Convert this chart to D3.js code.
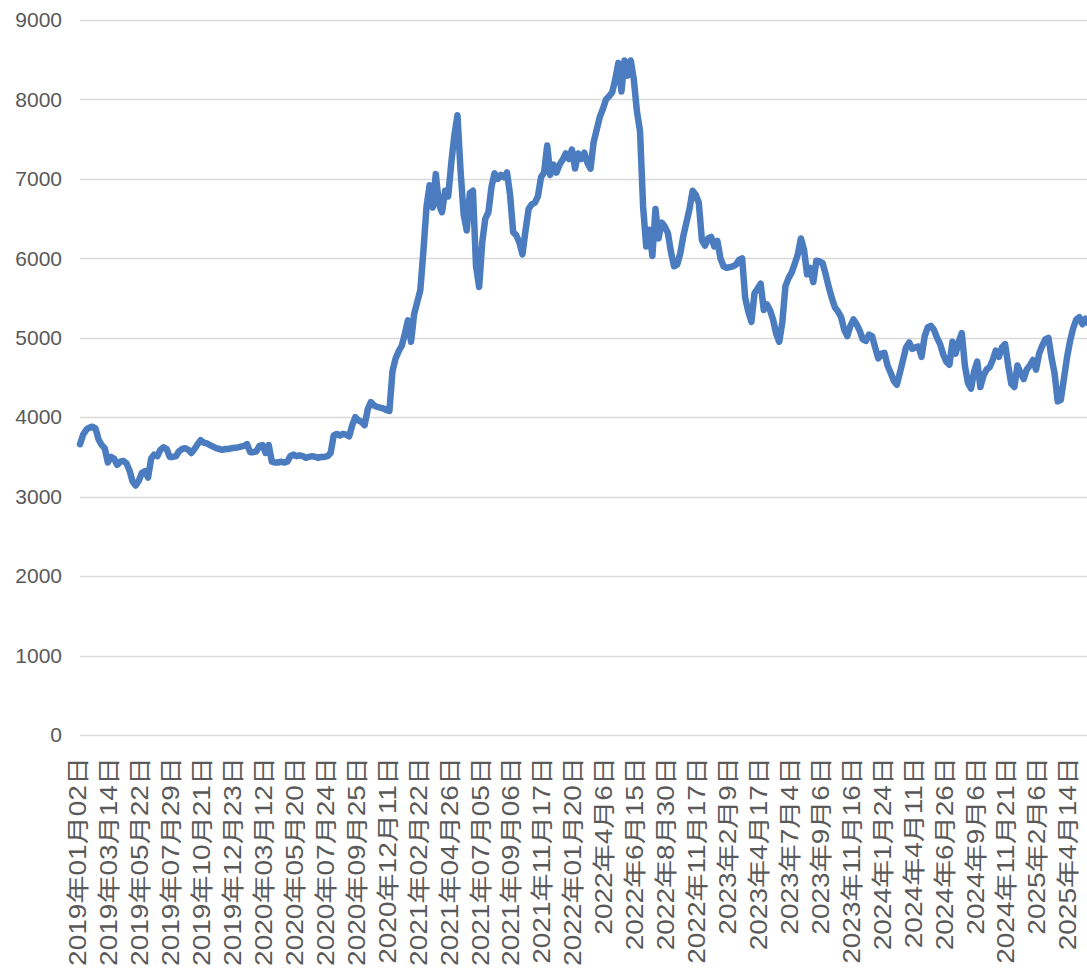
<!DOCTYPE html>
<html>
<head>
<meta charset="utf-8">
<script src="https://cdn.jsdelivr.net/npm/d3@7"></script>
<style>
  html, body { margin: 0; padding: 0; background: #fff; }
  svg { display: block; }
</style>
</head>
<body>
<div id="chart"></div>
<script>
// category labels shown on the x axis (one every 10 data points)
var dateLabels = [
  "2019年01月02日", "2019年03月14日", "2019年05月22日", "2019年07月29日",
  "2019年10月21日", "2019年12月23日", "2020年03月12日", "2020年05月20日",
  "2020年07月24日", "2020年09月25日", "2020年12月11日", "2021年02月22日",
  "2021年04月26日", "2021年07月05日", "2021年09月06日", "2021年11月17日",
  "2022年01月20日", "2022年4月6日", "2022年6月15日", "2022年8月30日",
  "2022年11月17日", "2023年2月9日", "2023年4月17日", "2023年7月4日",
  "2023年9月6日", "2023年11月16日", "2024年1月24日", "2024年4月11日",
  "2024年6月26日", "2024年9月6日", "2024年11月21日", "2025年2月6日",
  "2025年4月14日"
];
var labelStep = 10;

// y axis ticks
var yTicks = [0, 1000, 2000, 3000, 4000, 5000, 6000, 7000, 8000, 9000];

// series values
var values = [
  3660, 3780, 3840, 3870, 3880, 3860, 3720, 3650, 3610, 3430,
  3500, 3480, 3400, 3440, 3450, 3420, 3330, 3190, 3140, 3200,
  3300, 3320, 3240, 3480, 3530, 3510, 3590, 3620, 3600, 3500,
  3500, 3510, 3570, 3600, 3610, 3590, 3550, 3600, 3660, 3710,
  3680, 3670, 3650, 3630, 3610, 3600, 3590, 3600, 3600, 3610,
  3615, 3620, 3630, 3640, 3660, 3560, 3560, 3570, 3640, 3650,
  3550, 3650, 3440, 3430, 3430, 3440, 3430, 3440, 3510, 3530,
  3510, 3520, 3510, 3490, 3500, 3510, 3500, 3490, 3500, 3500,
  3510, 3550, 3770, 3790, 3770, 3790, 3780, 3760, 3900, 4000,
  3960, 3940, 3900, 4100, 4190, 4150, 4130, 4120, 4110, 4090,
  4080, 4580, 4740, 4830, 4900, 5050, 5220, 4950, 5300, 5450,
  5600, 6100, 6650, 6920, 6640, 7060, 6680, 6580, 6850, 6780,
  7200, 7550, 7800, 7100, 6550, 6350, 6820, 6850, 5900, 5640,
  6200, 6500, 6580, 6900, 7070, 7000, 7050, 7020, 7080, 6800,
  6330, 6290, 6200, 6050, 6350, 6620, 6680, 6700, 6780, 7020,
  7080, 7420, 7050, 7180, 7080, 7180, 7240, 7320, 7250, 7370,
  7130, 7320, 7250, 7330, 7200, 7130, 7460, 7620, 7780, 7880,
  8000, 8040, 8090, 8250, 8460, 8100, 8490, 8300, 8490, 8250,
  7850, 7600, 6650, 6150, 6360, 6030, 6620, 6250, 6450, 6400,
  6320, 6080, 5900, 5920, 6060, 6280, 6450, 6620, 6850, 6800,
  6700, 6230, 6160, 6250, 6270, 6150, 6220, 6000, 5900, 5880,
  5890, 5900, 5920, 5980, 6000, 5500, 5330, 5200, 5560, 5620,
  5680, 5350, 5420, 5350, 5230, 5050, 4950, 5200, 5650, 5750,
  5820, 5930, 6050, 6250, 6110, 5800, 5880, 5700, 5970, 5960,
  5940, 5800, 5640, 5500, 5380, 5330, 5260, 5100, 5020, 5150,
  5230, 5170, 5090, 4980, 4960, 5040, 5020, 4880, 4740, 4800,
  4810, 4650, 4560, 4460, 4410, 4560, 4720, 4880, 4940, 4860,
  4880, 4890, 4760, 5020, 5130, 5150, 5100, 5000, 4920, 4790,
  4700, 4660, 4950, 4800, 4950, 5060, 4650, 4430, 4360, 4580,
  4700, 4380, 4520, 4600, 4630, 4720, 4840, 4760, 4880, 4920,
  4650, 4420, 4380, 4650, 4560, 4480, 4600, 4650, 4720, 4600,
  4800, 4900, 4980, 5000, 4750, 4550, 4200, 4220, 4480, 4750,
  4960, 5120, 5230, 5260, 5170, 5240, 5180, 5200
];

var totalWidth = 1087,
    totalHeight = 968;

var plot = {left: 80, right: 1087, top: 20, bottom: 735};

var svg = d3.select("#chart")
    .append("svg")
    .attr("width", totalWidth)
    .attr("height", totalHeight);

// index scale: one label every 10 points, 30.94 px per label
var pxPerPoint = 3.094;
var x = d3.scaleLinear()
    .domain([0, values.length - 1])
    .range([plot.left, plot.left + (values.length - 1) * pxPerPoint]);

var y = d3.scaleLinear()
    .domain([0, 9000])
    .range([plot.bottom, plot.top]);

// horizontal gridlines
svg.append("g")
    .attr("class", "grid")
    .selectAll("line")
    .data(yTicks)
    .enter()
    .append("line")
    .attr("x1", plot.left)
    .attr("x2", plot.right)
    .attr("y1", function(d) { return Math.round(y(d)) + 0.5; })
    .attr("y2", function(d) { return Math.round(y(d)) + 0.5; })
    .attr("stroke", "#d9d9d9")
    .attr("stroke-width", 1.5);

// y axis labels
var yAxis = d3.axisLeft(y)
    .tickValues(yTicks)
    .tickSize(0)
    .tickPadding(18)
    .tickFormat(d3.format("d"));

svg.append("g")
    .attr("transform", "translate(" + plot.left + ",0)")
    .call(yAxis)
    .call(function(g) { g.select(".domain").remove(); })
    .selectAll("text")
    .attr("fill", "#595959")
    .style("font-family", "'Liberation Sans', Arial, sans-serif")
    .style("font-size", "21px");

// x axis labels, rotated
svg.append("g")
    .attr("class", "xlabels")
    .selectAll("text")
    .data(dateLabels)
    .enter()
    .append("text")
    .attr("transform", function(d, i) {
        return "translate(" + (x(i * labelStep) - 2) + ",757) rotate(-90) scale(1.22,1)";
    })
    .attr("dy", "0.36em")
    .attr("text-anchor", "end")
    .attr("fill", "#595959")
    .style("font-family", "'Liberation Sans', 'Noto Sans CJK SC', sans-serif")
    .style("font-size", "23px")
    .text(function(d) { return d; });

// the price line
var line = d3.line()
    .x(function(d, i) { return x(i); })
    .y(function(d) { return y(d); });

svg.append("path")
    .datum(values)
    .attr("d", line)
    .attr("fill", "none")
    .attr("stroke", "#4a7cbf")
    .attr("stroke-width", 6.5)
    .attr("stroke-linejoin", "round")
    .attr("stroke-linecap", "round");
</script>
</body>
</html>
